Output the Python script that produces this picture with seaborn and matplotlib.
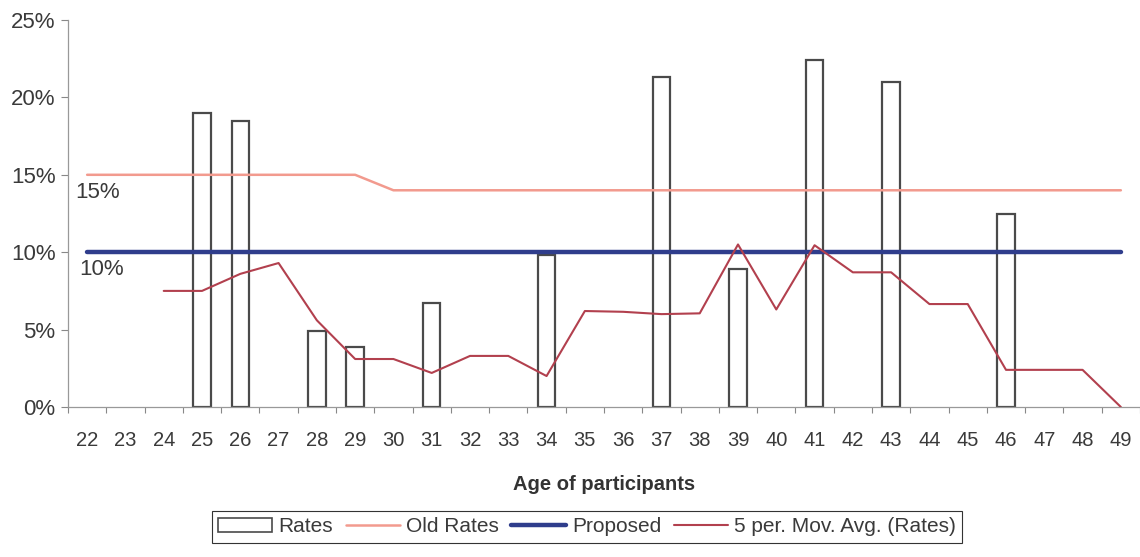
import numpy as np
import pandas as pd
import matplotlib
matplotlib.use("Agg")
import matplotlib.pyplot as plt
from matplotlib.patches import Patch
from matplotlib.lines import Line2D
import seaborn as sns

# Ages shown on the x axis
ages = list(range(22, 50))

# Observed rates (%) for the ages that have data
rate_ages = [25, 26, 28, 29, 31, 34, 37, 39, 41, 43, 46]
rates = [19.0, 18.5, 4.9, 3.9, 6.7, 9.8, 21.3, 8.9, 22.4, 21.0, 12.5]

# Reference lines (%) per age
old_rates = [15, 15, 15, 15, 15, 15, 15, 15] + [14] * 20
proposed = [10] * 28

# 5-period moving average (%) from age 24 onward
ma_ages = list(range(24, 50))
moving_avg = [7.5, 7.5, 8.6, 9.3, 5.6, 3.1, 3.1, 2.2, 3.3, 3.3, 2.0, 6.2, 6.15,
              6.0, 6.05, 10.5, 6.3, 10.45, 8.7, 8.7, 6.65, 6.65, 2.4, 2.4, 2.4, 0.0]

sns.set_theme(style="white")
plt.rcParams["font.family"] = ["Liberation Sans", "DejaVu Sans"]

fig = plt.figure(figsize=(11.4, 5.57), dpi=100)
ax = fig.add_axes([68 / 1140, 150 / 557, 1072 / 1140, 387 / 557])

bars_df = pd.DataFrame({"age": rate_ages, "rate": rates})
sns.barplot(data=bars_df, x="age", y="rate", native_scale=True, width=0.455,
            color="white", edgecolor="#4a4a4a", linewidth=1.6, ax=ax, zorder=2)

lines_df = pd.DataFrame({"age": ages, "old": old_rates, "proposed": proposed})
sns.lineplot(data=lines_df, x="age", y="old", color="#f29a8e", linewidth=1.8,
             ax=ax, zorder=3)
sns.lineplot(data=lines_df, x="age", y="proposed", color="#2f3d8c", linewidth=3.2,
             ax=ax, zorder=4)
ma_df = pd.DataFrame({"age": ma_ages, "ma": moving_avg})
sns.lineplot(data=ma_df, x="age", y="ma", color="#b2404e", linewidth=1.5,
             ax=ax, zorder=5)

ax.text(21.68, old_rates[0] - 0.45, "15%", fontsize=16, color="#3a3a3a",
        ha="left", va="top")
ax.text(21.8, proposed[0] - 0.45, "10%", fontsize=16, color="#3a3a3a",
        ha="left", va="top")

ax.set_xlim(ages[0] - 0.5, ages[-1] + 0.5)
ax.set_ylim(0, 25)
ax.set_yticks([0, 5, 10, 15, 20, 25])
ax.set_yticklabels([f"{v}%" for v in [0, 5, 10, 15, 20, 25]])
ax.set_xticks(ages)
ax.set_xticklabels([str(a) for a in ages])
ax.set_xticks(np.arange(ages[0] - 0.5, ages[-1] + 1), minor=True)
ax.tick_params(axis="x", which="major", length=0, pad=17, labelsize=14.5,
               labelcolor="#3a3a3a")
ax.tick_params(axis="x", which="minor", length=4, width=0.8, color="#888888",
               direction="out", bottom=True)
ax.tick_params(axis="y", which="major", length=5, width=0.8, color="#888888",
               direction="out", left=True, labelsize=16, labelcolor="#3a3a3a",
               pad=4)

ax.set_xlabel("Age of participants", fontsize=14.5, fontweight="bold",
              color="#333333", labelpad=18)
ax.set_ylabel("")

for side in ["top", "right"]:
    ax.spines[side].set_visible(False)
for side in ["left", "bottom"]:
    ax.spines[side].set_color("#999999")
    ax.spines[side].set_linewidth(0.9)

handles = [
    Patch(facecolor="white", edgecolor="#4a4a4a", linewidth=1.2),
    Line2D([], [], color="#f29a8e", linewidth=1.8),
    Line2D([], [], color="#2f3d8c", linewidth=3.2),
    Line2D([], [], color="#b2404e", linewidth=1.5),
]
labels = ["Rates", "Old Rates", "Proposed", "5 per. Mov. Avg. (Rates)"]
leg = fig.legend(handles, labels, loc="lower center", ncol=4,
                 bbox_to_anchor=(587 / 1140, 4 / 557), frameon=True,
                 fancybox=False, edgecolor="#333333", framealpha=1,
                 prop={"size": 15}, handlelength=2.6,
                 handletextpad=0.3, columnspacing=0.6, borderpad=0.3)
leg.get_frame().set_linewidth(0.8)
for t in leg.get_texts():
    t.set_color("#3a3a3a")

fig.savefig("out.png", dpi=100, facecolor="white")
